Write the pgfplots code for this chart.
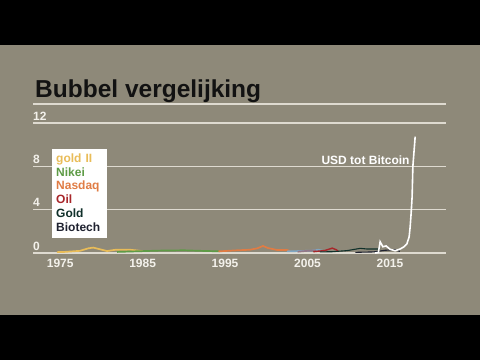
\documentclass[border=0pt]{standalone}
\usepackage{pgfplots}
\pgfplotsset{compat=1.18}
\usepackage{fontspec}
\setmainfont{Liberation Sans}
\definecolor{bg}{HTML}{8E8979}
\definecolor{gridc}{HTML}{DEDAD0}
\definecolor{tickc}{HTML}{F3F1EB}
\definecolor{goldII}{HTML}{E9BC58}
\definecolor{nikei}{HTML}{5E9B46}
\definecolor{nasdaq}{HTML}{E07C44}
\definecolor{oil}{HTML}{A8262A}
\definecolor{goldc}{HTML}{10302A}
\definecolor{biotech}{HTML}{1F2230}
\definecolor{bluec}{HTML}{7FA6C2}
\definecolor{purplec}{HTML}{927888}
\begin{document}
\begin{tikzpicture}[x=1pt,y=1pt]
\fill[black] (0,0) rectangle (480,360);
\fill[bg] (0,45) rectangle (480,315);
\node[anchor=base west, inner sep=0pt, text=black!93] at (35,263)
  {\fontsize{24.5}{26}\selectfont\bfseries Bubbel vergelijking};
\draw[gridc, line width=1.1pt] (33,256) -- (446,256);
\begin{axis}[
  at={(33pt,107pt)}, anchor=south west,
  scale only axis, width=413pt, height=130pt,
  xmin=1971.7, xmax=2021.8, ymin=0, ymax=12,
  clip=false,
  axis line style={draw=none},
  major tick length=0pt,
  ymajorgrids, grid style={gridc, line width=1.1pt},
  xtick={1975,1985,1995,2005,2015},
  xticklabels={1975,1985,1995,2005,2015},
  ytick={0,4,8,12},
  yticklabels={0,4,8,12},
  /pgf/number format/assume math mode=true,
  tick label style={font=\fontsize{12}{12}\selectfont\bfseries, text=tickc, inner sep=0pt},
  yticklabel style={anchor=south west, xshift=0pt, yshift=2.5pt},
  xticklabel style={anchor=north, yshift=-6pt},
  legend image code/.code={},
  legend cell align=left,
  legend style={at={(0.046,0.8)}, anchor=north west, fill=white, draw=none,
    inner xsep=4pt, inner ysep=3pt, column sep=0pt, row sep=0pt,
    font=\fontsize{12}{12}\selectfont\bfseries,
    nodes={inner xsep=0pt, inner ysep=1.25pt, text height=8.8pt, text depth=2.5pt, text width=47pt, align=left}},
]
\addplot[goldII, line width=1.7pt] coordinates {
(1974.6,0.08) (1975.5,0.1) (1977.4,0.2) (1978.4,0.43) (1979.0,0.5) (1979.8,0.35)
(1980.7,0.18) (1981.7,0.3) (1983.5,0.3) (1984.7,0.2) (1985.0,0.15)};
\addlegendentry{\textcolor{goldII}{gold II}}
\addplot[nikei, line width=1.7pt] coordinates {
(1981.9,0.1) (1984,0.15) (1987,0.22) (1990,0.25) (1992,0.2) (1994.4,0.15)};
\addlegendentry{\textcolor{nikei}{Nikei}}
\addplot[nasdaq, line width=1.7pt] coordinates {
(1994.2,0.15) (1996.5,0.25) (1998.0,0.3) (1998.9,0.43) (1999.6,0.65) (2000.2,0.46)
(2001.3,0.28) (2002.5,0.28) (2002.9,0.18)};
\addlegendentry{\textcolor{nasdaq}{Nasdaq}}
\addplot[bluec, line width=1.7pt, forget plot] coordinates {
(2002.5,0.15) (2004,0.18) (2005.5,0.22) (2006.3,0.3) (2006.9,0.2)};
\addplot[purplec, line width=1.7pt, forget plot] coordinates {
(2003.8,0.12) (2005,0.2) (2006,0.25)};
\addplot[oil, line width=1.4pt] coordinates {
(2005.7,0.12) (2007.1,0.23) (2008.0,0.45) (2008.5,0.3) (2008.7,0.18)};
\addlegendentry{\textcolor{oil}{Oil}}
\addplot[goldc, line width=1.1pt] coordinates {
(2006.5,0.1) (2008,0.12) (2009.8,0.22) (2011.4,0.43) (2012.2,0.37) (2013.8,0.37)};
\addlegendentry{\textcolor{goldc}{Gold}}
\addplot[biotech, line width=1.1pt] coordinates {
(2010.8,0.06) (2013.0,0.1) (2014.4,0.25) (2015.6,0.3) (2016.2,0.15)};
\addlegendentry{\textcolor{biotech}{Biotech}}
\addplot[white, line width=1.6pt, forget plot] coordinates {
(2013.2,0) (2013.6,0.05) (2013.81,1.04) (2014.14,0.58) (2014.54,0.65) (2015.02,0.34)
(2015.63,0.21) (2016.24,0.37) (2016.72,0.58) (2017.05,0.83) (2017.33,1.5)
(2017.45,2.4) (2017.57,3.67) (2017.69,5.2) (2017.78,8.0) (2018.06,10.74)};
\node[anchor=east, inner sep=0pt, text=white, font=\fontsize{12}{12}\selectfont\bfseries]
  at (axis cs:2017.4,8.6) {USD tot Bitcoin};
\end{axis}
\end{tikzpicture}
\end{document}
